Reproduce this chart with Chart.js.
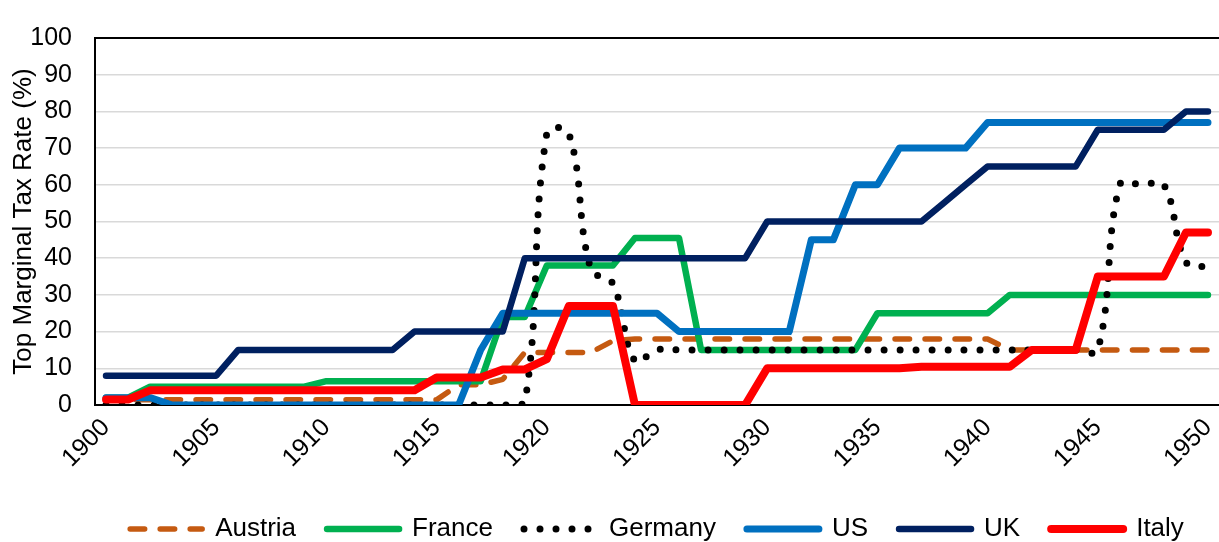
<!DOCTYPE html>
<html>
<head>
<meta charset="utf-8">
<script src="https://cdn.jsdelivr.net/npm/chart.js@4.4.1/dist/chart.umd.min.js"></script>
<style>
  html, body { margin: 0; padding: 0; background: #ffffff; }
  #wrap { width: 1219px; height: 542px; }
</style>
</head>
<body>
<div id="wrap"><canvas id="taxChart" width="1219" height="542"></canvas></div>
<script>
// 연도 (카테고리)
var years = [1900, 1901, 1902, 1903, 1904, 1905, 1906, 1907, 1908, 1909,
             1910, 1911, 1912, 1913, 1914, 1915, 1916, 1917, 1918, 1919,
             1920, 1921, 1922, 1923, 1924, 1925, 1926, 1927, 1928, 1929,
             1930, 1931, 1932, 1933, 1934, 1935, 1936, 1937, 1938, 1939,
             1940, 1941, 1942, 1943, 1944, 1945, 1946, 1947, 1948, 1949, 1950];

// series values (%)
var austria = [1.4, 1.4, 1.4, 1.4, 1.4, 1.4, 1.4, 1.4, 1.4, 1.4,
               1.4, 1.4, 1.4, 1.4, 1.4, 1.4, 5.5, 5.5, 7, 14.3,
               14.3, 14.3, 14.3, 17.5, 18, 18, 18, 18, 18, 18,
               18, 18, 18, 18, 18, 18, 18, 18, 18, 18,
               18, 15, 15, 15, 15, 15, 15, 15, 15, 15, 15];
var france = [2, 2, 5, 5, 5, 5, 5, 5, 5, 5,
              6.5, 6.5, 6.5, 6.5, 6.5, 6.5, 6.5, 6.5, 24, 24,
              38, 38, 38, 38, 45.5, 45.5, 45.5, 15, 15, 15,
              15, 15, 15, 15, 15, 25, 25, 25, 25, 25,
              25, 30, 30, 30, 30, 30, 30, 30, 30, 30, 30];
var germany = [0, 0, 0, 0, 0, 0, 0, 0, 0, 0,
               0, 0, 0, 0, 0, 0, 0, 0, 0, 0.5,
               74, 74, 37, 33, 12, 15, 15, 15, 15, 15,
               15, 15, 15, 15, 15, 15, 15, 15, 15, 15,
               15, 15, 15, 15, 15, 15, 60, 60, 60, 39, 37.5];
var us = [2, 2, 2, 0, 0, 0, 0, 0, 0, 0,
          0, 0, 0, 0, 0, 0, 0, 15, 25, 25,
          25, 25, 25, 25, 25, 25, 20, 20, 20, 20,
          20, 20, 45, 45, 60, 60, 70, 70, 70, 70,
          77, 77, 77, 77, 77, 77, 77, 77, 77, 77, 77];
var uk = [8, 8, 8, 8, 8, 8, 15, 15, 15, 15,
          15, 15, 15, 15, 20, 20, 20, 20, 20, 40,
          40, 40, 40, 40, 40, 40, 40, 40, 40, 40,
          50, 50, 50, 50, 50, 50, 50, 50, 55, 60,
          65, 65, 65, 65, 65, 75, 75, 75, 75, 80, 80];
var italy = [1.5, 1.5, 4, 4, 4, 4, 4, 4, 4, 4,
             4, 4, 4, 4, 4, 7.5, 7.5, 7.5, 9.7, 9.7,
             12.5, 27, 27, 27, 0, 0, 0, 0, 0, 0,
             10, 10, 10, 10, 10, 10, 10, 10.4, 10.4, 10.4,
             10.4, 10.4, 15, 15, 15, 35, 35, 35, 35, 47, 47];

// y축 눈금
var yTicks = [0, 10, 20, 30, 40, 50, 60, 70, 80, 90, 100];

var FONT = "'Liberation Sans', Arial, sans-serif";

function makeSet(label, data, color, width, dash, tension, order) {
    return {
        label: label,
        data: data,
        borderColor: color,
        backgroundColor: color,
        borderWidth: width,
        borderDash: dash,
        borderCapStyle: 'round',
        borderJoinStyle: 'round',
        pointRadius: 0,
        pointHoverRadius: 0,
        fill: false,
        tension: tension,
        order: order
    };
}

// 범례 항목 (선 스타일 그대로)
function legendItems(chart) {
    return chart.data.datasets.map(function(ds, i) {
        return {
            text: ds.label,
            fillStyle: ds.borderColor,
            strokeStyle: ds.borderColor,
            fontColor: '#000000',
            lineWidth: ds.borderWidth,
            lineDash: ds.borderDash,
            lineCap: 'round',
            lineJoin: 'round',
            pointStyle: 'line',
            hidden: false,
            datasetIndex: i
        };
    });
}

var ctx = document.getElementById('taxChart').getContext('2d');

var chart = new Chart(ctx, {
    type: 'line',
    data: {
        labels: years,
        datasets: [
            makeSet('Austria', austria, '#C55A11', 5.5, [14.5, 15.5], 0, 5),
            makeSet('France', france, '#00B050', 6.5, [], 0, 4),
            makeSet('Germany', germany, '#000000', 7, [0, 16], 0.4, 3),
            makeSet('US', us, '#0070C0', 7, [], 0, 2),
            makeSet('UK', uk, '#002060', 6.5, [], 0, 1),
            makeSet('Italy', italy, '#FF0000', 8, [], 0, 0)
        ]
    },
    options: {
        responsive: false,
        animation: false,
        layout: {
            padding: { top: 23, right: 0, bottom: -10, left: 0 }
        },
        scales: {
            x: {
                offset: true,
                grid: { display: false, drawTicks: false },
                border: { display: true, color: '#000000', width: 2 },
                ticks: {
                    autoSkip: false,
                    maxRotation: 45,
                    minRotation: 45,
                    padding: 8,
                    color: '#000000',
                    font: { family: FONT, size: 25 },
                    callback: function(value, index) {
                        return years[index] % 5 === 0 ? String(years[index]) : '';
                    }
                },
                afterFit: function(scale) {
                    scale.height = 80;
                    scale.paddingLeft = 0;
                    scale.paddingRight = 0;
                }
            },
            y: {
                min: 0,
                max: 100,
                afterBuildTicks: function(scale) {
                    scale.ticks = yTicks.map(function(v) { return { value: v }; });
                },
                grid: {
                    drawTicks: false,
                    color: function(c) { return c.tick && c.tick.value === 100 ? '#000000' : '#D9D9D9'; },
                    lineWidth: function(c) { return c.tick && c.tick.value === 100 ? 2 : 1.5; }
                },
                border: { display: true, color: '#000000', width: 2 },
                ticks: {
                    padding: 23,
                    color: '#000000',
                    font: { family: FONT, size: 25 }
                },
                title: {
                    display: true,
                    text: 'Top Marginal Tax Rate (%)',
                    color: '#000000',
                    padding: { top: 8, bottom: 0 },
                    font: { family: FONT, size: 26 }
                },
                afterFit: function(scale) {
                    scale.width = 95;
                }
            }
        },
        plugins: {
            legend: {
                position: 'bottom',
                fullSize: false,
                labels: {
                    usePointStyle: true,
                    pointStyle: 'line',
                    pointStyleWidth: 72,
                    padding: 31,
                    color: '#000000',
                    font: { family: FONT, size: 26 },
                    generateLabels: legendItems
                }
            },
            tooltip: { enabled: false }
        }
    }
});
</script>
</body>
</html>
